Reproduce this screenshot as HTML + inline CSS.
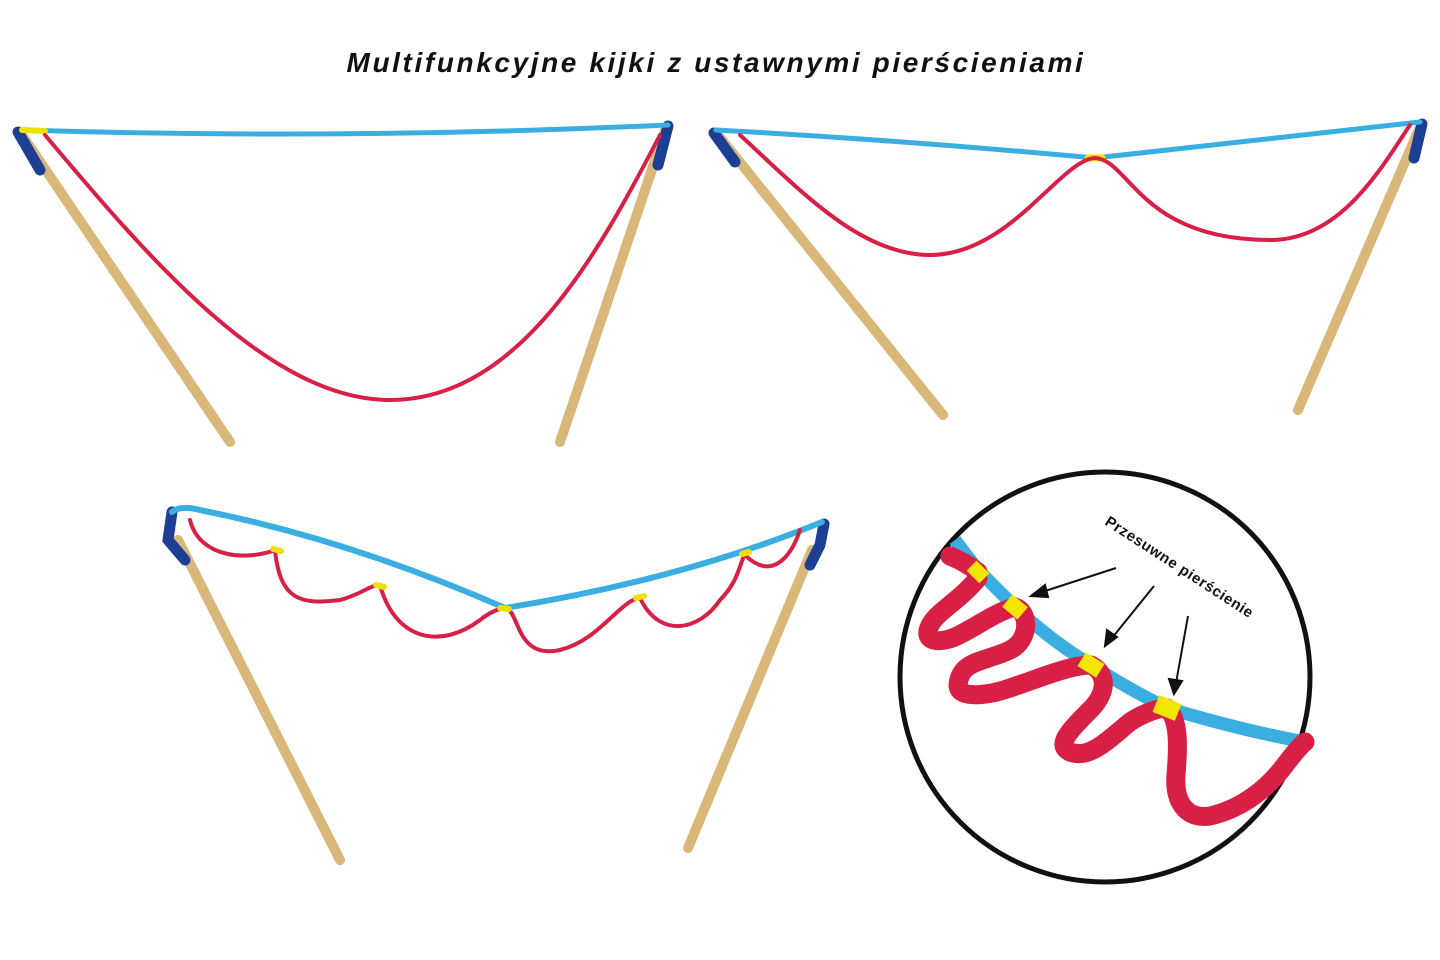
<!DOCTYPE html>
<html><head><meta charset="utf-8"><style>
html,body{margin:0;padding:0;background:#fff;width:1440px;height:960px;overflow:hidden}
</style></head><body>
<svg width="1440" height="960" viewBox="0 0 1440 960" xmlns="http://www.w3.org/2000/svg">
<text x="716" y="72" text-anchor="middle" font-family="Liberation Sans, sans-serif" font-weight="bold" font-style="italic" font-size="28" letter-spacing="2.6" fill="#111">Multifunkcyjne kijki z ustawnymi pierścieniami</text>

<!-- Panel 1 -->
<g stroke-linecap="round" fill="none">
<line x1="22" y1="135" x2="230" y2="442" stroke="#d8b779" stroke-width="10"/>
<line x1="666" y1="128" x2="560" y2="442" stroke="#d8b779" stroke-width="10"/>
<line x1="18" y1="132" x2="40" y2="170" stroke="#1c3f93" stroke-width="11"/>
<line x1="668" y1="126" x2="658" y2="165" stroke="#1c3f93" stroke-width="11"/>
<path d="M22 130 Q345 140 668 125" stroke="#3aaee0" stroke-width="5"/>
<line x1="22" y1="130" x2="45" y2="131" stroke="#f0e000" stroke-width="6"/>
<path d="M45 135 C150 260 270 400 390 400 C520 400 600 250 660 135" stroke="#d81f45" stroke-width="4"/>
</g>

<!-- Panel 2 -->
<g stroke-linecap="round" fill="none">
<line x1="718" y1="135" x2="943" y2="415" stroke="#d8b779" stroke-width="10"/>
<line x1="1420" y1="127" x2="1298" y2="410" stroke="#d8b779" stroke-width="10"/>
<line x1="714" y1="133" x2="735" y2="162" stroke="#1c3f93" stroke-width="11"/>
<line x1="1422" y1="124" x2="1414" y2="158" stroke="#1c3f93" stroke-width="11"/>
<path d="M716 130 Q900 140 1095 158 Q1260 140 1420 122" stroke="#3aaee0" stroke-width="5"/>
<line x1="1088" y1="158" x2="1102" y2="158" stroke="#f0e000" stroke-width="7"/>
<path d="M740 135 C800 190 860 255 930 255 C1010 255 1060 160 1095 158 C1130 160 1140 240 1270 240 C1340 240 1380 170 1410 125" stroke="#d81f45" stroke-width="4"/>
</g>

<!-- Panel 3 -->
<g stroke-linecap="round" fill="none">
<line x1="178" y1="540" x2="340" y2="860" stroke="#d8b779" stroke-width="10"/>
<line x1="812" y1="550" x2="688" y2="848" stroke="#d8b779" stroke-width="10"/>
<path d="M172 512 L168 540 L185 560" stroke="#1c3f93" stroke-width="11"/>
<path d="M824 524 L820 545 L810 565" stroke="#1c3f93" stroke-width="11"/>
<path d="M172 512 Q180 505 200 510 Q350 540 505 608 Q680 580 822 522" stroke="#3aaee0" stroke-width="6"/>
<path d="M190 520 C200 560 250 560 275 550 C280 600 300 605 340 600 C360 595 370 585 380 585 C395 640 440 650 480 620 C490 612 500 608 505 608 C520 610 515 660 560 650 C600 640 620 600 640 598 C660 640 700 630 720 600 C740 580 740 560 745 555 C770 580 790 560 800 530" stroke="#d81f45" stroke-width="4"/>
<g stroke="#f0e000" stroke-width="6">
<line x1="273" y1="549" x2="281" y2="551"/><line x1="376" y1="585" x2="384" y2="587"/>
<line x1="500" y1="608" x2="509" y2="609"/><line x1="636" y1="598" x2="644" y2="596"/>
<line x1="742" y1="554" x2="749" y2="552"/>
</g>
</g>

<!-- Circle detail -->
<circle cx="1105" cy="677" r="205" fill="#fff" stroke="#111" stroke-width="5"/>
<g fill="none" stroke-linejoin="round">
<path d="M955 540 Q970 560 980 572 L1015 607 Q1050 640 1091 665 Q1130 690 1167 708 Q1240 730 1305 742" stroke="#3aaee0" stroke-width="13" stroke-linecap="butt"/>
<path d="M950 556 Q965 562 978 572 M978 578 C960 600 940 610 932 622 C920 640 935 645 955 637 C975 628 995 612 1015 607 C1030 612 1030 640 1010 650 C985 662 960 660 958 685 C958 700 990 695 1010 688 C1040 678 1070 665 1091 665 C1110 675 1105 695 1090 710 C1070 730 1055 745 1070 752 C1090 760 1110 738 1130 722 C1145 712 1160 708 1167 708 C1180 720 1178 750 1176 775 C1174 800 1185 820 1210 816 C1245 808 1270 785 1285 765 C1295 752 1300 746 1305 742" stroke="#d81f45" stroke-width="19" stroke-linecap="round"/>
</g>
<g fill="#f5e600">
<rect x="-7" y="-9" width="14" height="18" transform="translate(978,572) rotate(-45)"/>
<rect x="-8" y="-10" width="16" height="20" transform="translate(1015,607) rotate(-50)"/>
<rect x="-8" y="-11" width="16" height="22" transform="translate(1091,665) rotate(-58)"/>
<rect x="-9" y="-12" width="18" height="24" transform="translate(1167,708) rotate(-68)"/>
</g>
<text x="0" y="0" transform="translate(1104,524) rotate(33)" font-family="Liberation Sans, sans-serif" font-weight="bold" font-size="15" letter-spacing="0.6" fill="#111">Przesuwne pierścienie</text>
<g stroke="#111" stroke-width="2" fill="#111">
<line x1="1116" y1="568" x2="1042" y2="592"/><polygon points="1031,596 1045,585 1048,597"/>
<line x1="1154" y1="586" x2="1112" y2="638"/><polygon points="1105,646 1107,630 1117,637"/>
<line x1="1188" y1="616" x2="1176" y2="683"/><polygon points="1174,694 1169,679 1182,681"/>
</g>
</svg>
</body></html>
